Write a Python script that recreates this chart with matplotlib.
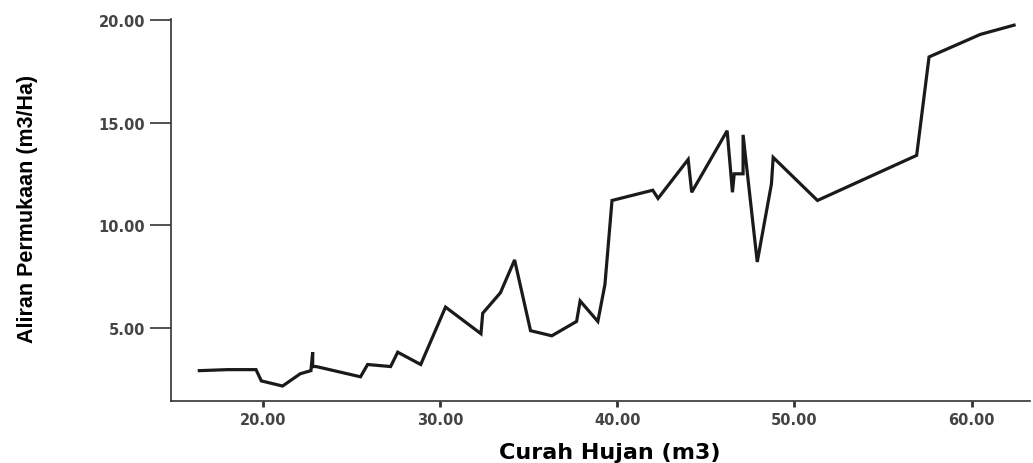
import matplotlib.pyplot as plt

# Curah hujan (x) vs aliran permukaan (y)
curah_hujan = [16.4, 18.0, 19.2, 19.6, 19.9, 21.1, 22.1, 22.7, 22.8, 22.8, 23.0,
               25.5, 25.9, 27.2, 27.6, 28.9, 30.3, 32.3, 32.4, 33.4, 34.2,
               35.1, 36.3, 37.7, 37.9, 38.9, 39.3, 39.7, 42.0, 42.3, 44.0,
               44.2, 46.2, 46.5, 46.6, 47.1, 47.1, 47.9, 48.7, 48.8, 51.3,
               56.9, 57.6, 60.5, 62.4]
aliran = [2.9, 2.95, 2.95, 2.95, 2.4, 2.15, 2.75, 2.9, 3.8, 3.1, 3.1,
          2.6, 3.2, 3.1, 3.8, 3.2, 6.0, 4.7, 5.7, 6.7, 8.3,
          4.85, 4.6, 5.3, 6.3, 5.3, 7.1, 11.2, 11.7, 11.3, 13.2,
          11.6, 14.6, 11.6, 12.5, 12.5, 14.4, 8.2, 12.0, 13.3, 11.2,
          13.4, 18.2, 19.3, 19.75]

x_ticks = [20, 30, 40, 50, 60]
y_ticks = [5, 10, 15, 20]

fig = plt.figure(figsize=(10.33, 4.64), dpi=100)
ax = fig.add_axes([171 / 1033, 1 - 402 / 464, (1030 - 171) / 1033, (402 - 20) / 464])

ax.plot(curah_hujan, aliran, color="#1a1a1a", linewidth=2.3, solid_joinstyle="miter")

ax.set_xlim(14.8, 63.3)
ax.set_ylim(1.42, 20.05)
ax.set_xticks(x_ticks)
ax.set_yticks(y_ticks)
ax.set_xticklabels([f"{v:.2f}" for v in x_ticks])
ax.set_yticklabels([f"{v:.2f}" for v in y_ticks])

for side in ["top", "right"]:
    ax.spines[side].set_visible(False)
for side in ["left", "bottom"]:
    ax.spines[side].set_color("#333333")
    ax.spines[side].set_linewidth(1.2)

ax.tick_params(axis="both", direction="out", color="#333333", labelcolor="#444444")
ax.tick_params(axis="y", length=15, width=1.2, pad=3.6)
ax.tick_params(axis="x", length=4.5, width=2, pad=3.6)
for lbl in ax.get_xticklabels() + ax.get_yticklabels():
    lbl.set_fontsize(10.5)
    lbl.set_fontweight("bold")
    lbl.set_family("DejaVu Sans")

ax.set_xlabel("Curah Hujan (m3)", fontsize=16, fontweight="bold",
              family="DejaVu Sans", va="center")
ax.xaxis.set_label_coords(0.511, -0.1335)
ax.set_ylabel("Aliran Permukaan (m3/Ha)", fontsize=15.5, fontweight="bold",
              family="Liberation Sans", va="center")
ax.yaxis.set_label_coords(-0.1665, 0.5065)

fig.savefig("out.png", dpi=100)
